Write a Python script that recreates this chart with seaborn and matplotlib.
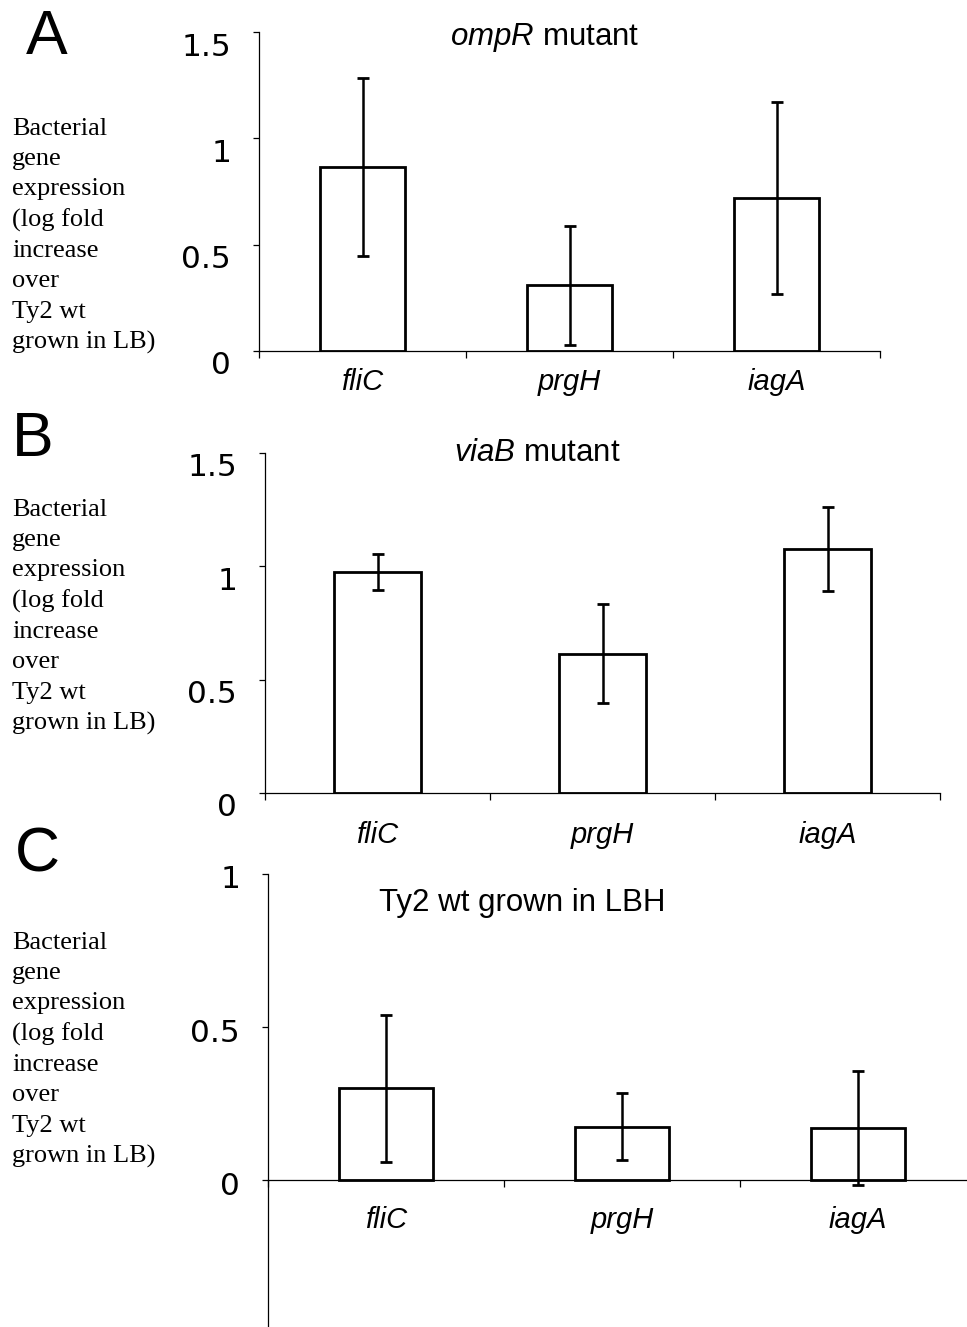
import numpy as np
import pandas as pd
import matplotlib
matplotlib.use("Agg")
import matplotlib.pyplot as plt
import matplotlib.transforms as mtransforms
import seaborn as sns

# ---- data ----
genes = ["fliC", "prgH", "iagA"]
ompR_mean = [0.865, 0.31, 0.72]
ompR_err = [0.42, 0.28, 0.45]
viaB_mean = [0.975, 0.615, 1.075]
viaB_err = [0.08, 0.22, 0.185]
lbh_mean = [0.30, 0.175, 0.17]
lbh_err = [0.24, 0.11, 0.185]

panel_letters = ["A", "B", "C"]
ylabel_text = "Bacterial\ngene\nexpression\n(log fold\nincrease\nover\nTy2 wt\ngrown in LB)"

sns.set_style("white")
plt.rcParams["mathtext.fontset"] = "custom"
plt.rcParams["mathtext.it"] = "Liberation Sans:italic"
plt.rcParams["mathtext.rm"] = "Liberation Sans"
plt.rcParams["text.color"] = "black"
plt.rcParams["xtick.color"] = "black"
plt.rcParams["ytick.color"] = "black"
plt.rcParams["axes.labelcolor"] = "black"

fig = plt.figure(figsize=(9.67, 13.27), dpi=100)

W, H = 967.0, 1327.0

def fx(px):
    return px / W

def fy(py):
    return 1 - py / H

panels = [
    dict(mean=ompR_mean, err=ompR_err, title=r"$\it{ompR}$ mutant",
         rect=[fx(259), fy(351), fx(880) - fx(259), fy(32) - fy(351)],
         ylim=(0, 1.5), yticks=[0, 0.5, 1, 1.5], ytlabels=["0", "0.5", "1", "1.5"],
         title_xy=(545, 38), letter_xy=(47, 38), ylab_y=236, ydown=12, xpad=12, bw=0.41),
    dict(mean=viaB_mean, err=viaB_err, title=r"$\it{viaB}$ mutant",
         rect=[fx(265), fy(793), fx(940) - fx(265), fy(453) - fy(793)],
         ylim=(0, 1.5), yticks=[0, 0.5, 1, 1.5], ytlabels=["0", "0.5", "1", "1.5"],
         title_xy=(537, 453), letter_xy=(33, 440), ylab_y=617, ydown=12, xpad=20, bw=0.39),
    dict(mean=lbh_mean, err=lbh_err, title="Ty2 wt grown in LBH",
         rect=[fx(268), 0.0, fx(976) - fx(268), fy(874)],
         ylim=(-0.48, 1.0), yticks=[0, 0.5, 1], ytlabels=["0", "0.5", "1"],
         title_xy=(522, 903), letter_xy=(37, 855), ylab_y=1050, ydown=3, xpad=19, bw=0.40),
]

for i, p in enumerate(panels):
    ax = fig.add_axes(p["rect"])
    df = pd.DataFrame({"gene": genes, "value": p["mean"]})
    sns.barplot(data=df, x="gene", y="value", ax=ax, color="white",
                edgecolor="black", linewidth=2.0, width=p["bw"], errorbar=None,
                saturation=1)
    ax.errorbar(np.arange(len(genes)), p["mean"], yerr=p["err"], fmt="none",
                ecolor="black", elinewidth=1.8, capsize=4.5, capthick=2.0, zorder=5)
    ax.set_xlim(-0.5, 2.5)
    ax.set_ylim(*p["ylim"])
    ax.set_xlabel("")
    ax.set_ylabel("")
    for s in ["top", "right"]:
        ax.spines[s].set_visible(False)
    for s in ["left", "bottom"]:
        ax.spines[s].set_color("black")
        ax.spines[s].set_linewidth(0.9)
    ax.spines["bottom"].set_position(("data", 0))
    ax.spines["bottom"].set_zorder(6)

    ax.set_yticks(p["yticks"])
    ax.set_yticklabels(p["ytlabels"], fontfamily="DejaVu Sans", fontsize=22.5, color="black")
    ax.tick_params(axis="y", direction="out", length=4, width=0.9, pad=16, left=True, color="black")
    off = mtransforms.ScaledTranslation(0, -p["ydown"] / 100.0, fig.dpi_scale_trans)
    for lab in ax.get_yticklabels():
        lab.set_transform(lab.get_transform() + off)

    ax.set_xticks(range(len(genes)))
    ax.set_xticklabels(genes, fontfamily="Liberation Sans", fontstyle="italic", fontsize=21,
                       color="black")
    ax.tick_params(axis="x", which="major", length=0, pad=p["xpad"])
    ax.set_xticks([-0.5, 0.5, 1.5, 2.5], minor=True)
    ax.tick_params(axis="x", which="minor", direction="out", length=5, width=0.9,
                   bottom=True, color="black")
    ax.grid(False)
    ax.set_facecolor("none")

    fig.text(fx(p["title_xy"][0]), fy(p["title_xy"][1]), p["title"],
             fontfamily="Liberation Sans", fontsize=22.5, ha="center", va="center", color="black")
    fig.text(fx(p["letter_xy"][0]), fy(p["letter_xy"][1]), panel_letters[i],
             fontfamily="Liberation Sans", fontsize=45, ha="center", va="center", color="black")
    fig.text(fx(12), fy(p["ylab_y"]), ylabel_text, fontfamily="Liberation Serif",
             fontsize=19, ha="left", va="center", linespacing=1.48, color="black")

fig.savefig("out.png", dpi=100, facecolor="white")
